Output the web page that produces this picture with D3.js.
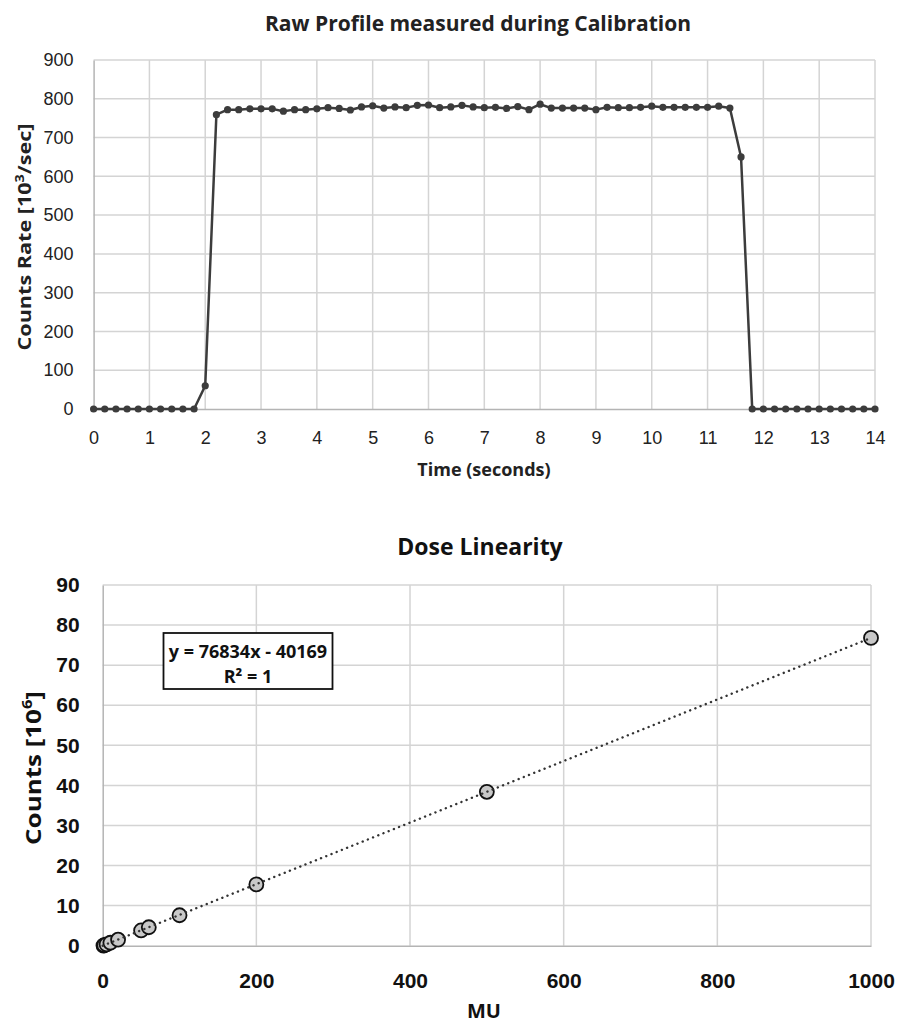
<!DOCTYPE html>
<html>
<head>
<meta charset="utf-8">
<script src="https://cdn.jsdelivr.net/npm/d3@7"></script>
<style>
  html, body { margin: 0; padding: 0; background: #fff; }
  svg { display: block; font-family: "Open Sans", Lato, sans-serif; }
</style>
</head>
<body>
<svg id="chart" width="909" height="1025"></svg>
<script>
// ---------- Data: Raw profile ----------
const timeSeconds = d3.range(71).map(i => +(i * 0.2).toFixed(1));
const countsRate = [
  0, 0, 0, 0, 0, 0, 0, 0, 0, 0,
  60, 759, 772, 772, 774, 774, 774, 768, 772, 772,
  774, 777, 775, 771, 779, 782, 776, 779, 777, 783,
  784, 777, 779, 783, 779, 777, 778, 775, 780, 772,
  786, 776, 776, 776, 776, 772, 778, 777, 777, 778,
  781, 778, 778, 778, 778, 778, 781, 776, 650,
  0, 0, 0, 0, 0, 0, 0, 0, 0, 0, 0, 0
];
const profileXTicks = d3.range(0, 15, 1);
const profileYTicks = d3.range(0, 901, 100);

// ---------- Data: Dose linearity ----------
const doseMU = [1, 2, 5, 10, 20, 50, 60, 100, 200, 500, 1000];
const doseCounts = [0.04, 0.11, 0.34, 0.73, 1.5, 3.8, 4.6, 7.6, 15.3, 38.4, 76.8];
const fitSlope = 76834;      // counts per MU
const fitIntercept = -40169; // counts
const fitLabel = ["y = 76834x - 40169", "R² = 1"];
const doseXTicks = [0, 200, 400, 600, 800, 1000];
const doseYTicks = d3.range(0, 91, 10);

const svg = d3.select("#chart");
const gridColor = "#d4d4d4";
const axisColor = "#b4b4b4";
const lineColor = "#3c3c3c";

// ================= Chart 1 =================
{
  const L = 93.6, R = 875, T = 60, B = 409;
  const x = d3.scaleLinear().domain([0, 14]).range([L, R]);
  const y = d3.scaleLinear().domain([0, 900]).range([B, T]);
  const g = svg.append("g");

  g.append("g").selectAll("line").data(profileXTicks.filter(d => d > 0)).join("line")
    .attr("x1", d => x(d)).attr("x2", d => x(d)).attr("y1", T).attr("y2", B)
    .attr("stroke", gridColor).attr("stroke-width", 1.5);
  g.append("g").selectAll("line").data(profileYTicks.filter(d => d > 0)).join("line")
    .attr("x1", L).attr("x2", R).attr("y1", d => y(d)).attr("y2", d => y(d))
    .attr("stroke", gridColor).attr("stroke-width", 1.5);

  const xAxis = g.append("g").attr("transform", `translate(0,${B})`)
    .call(d3.axisBottom(x).tickValues(profileXTicks).tickSize(0).tickPadding(22).tickFormat(d3.format("d")));
  xAxis.select(".domain").attr("stroke", axisColor).attr("stroke-width", 1.5);
  xAxis.selectAll("text").attr("font-size", 18).attr("fill", "#222");
  const yAxis = g.append("g").attr("transform", `translate(${L},0)`)
    .call(d3.axisLeft(y).tickValues(profileYTicks).tickSize(0).tickPadding(20).tickFormat(d3.format("d")));
  yAxis.select(".domain").attr("stroke", axisColor).attr("stroke-width", 1.5);
  yAxis.selectAll("text").attr("font-size", 18).attr("fill", "#222");

  const pts = timeSeconds.map((t, i) => [t, countsRate[i]]);
  g.append("path").datum(pts)
    .attr("d", d3.line().x(d => x(d[0])).y(d => y(d[1])))
    .attr("fill", "none").attr("stroke", lineColor).attr("stroke-width", 2.5)
    .attr("stroke-linejoin", "round");
  g.append("g").selectAll("circle").data(pts).join("circle")
    .attr("cx", d => x(d[0])).attr("cy", d => y(d[1])).attr("r", 3.6)
    .attr("fill", lineColor);

  svg.append("text").attr("x", 478).attr("y", 31).attr("text-anchor", "middle")
    .attr("font-size", 21).attr("font-weight", "bold").attr("fill", "#222")
    .text("Raw Profile measured during Calibration");
  svg.append("text").attr("x", 484).attr("y", 476).attr("text-anchor", "middle")
    .attr("font-size", 18).attr("font-weight", "bold").attr("fill", "#222")
    .text("Time (seconds)");
  const yt = svg.append("text").attr("transform", "translate(31,237) rotate(-90) scale(1.2,1)")
    .attr("text-anchor", "middle").attr("font-size", 18).attr("font-weight", "bold").attr("fill", "#222");
  yt.append("tspan").text("Counts Rate [10");
  yt.append("tspan").attr("font-size", 12).attr("dy", -7).text("3");
  yt.append("tspan").attr("dy", 7).text("/sec]");
}

// ================= Chart 2 =================
{
  const L = 102.7, R = 871, T = 585, B = 945.7;
  const x = d3.scaleLinear().domain([0, 1000]).range([L, R]);
  const y = d3.scaleLinear().domain([0, 90]).range([B, T]);
  const g = svg.append("g");

  g.append("g").selectAll("line").data(doseXTicks.filter(d => d > 0)).join("line")
    .attr("x1", d => x(d)).attr("x2", d => x(d)).attr("y1", T).attr("y2", B)
    .attr("stroke", gridColor).attr("stroke-width", 1.5);
  g.append("g").selectAll("line").data(doseYTicks.filter(d => d > 0)).join("line")
    .attr("x1", L).attr("x2", R).attr("y1", d => y(d)).attr("y2", d => y(d))
    .attr("stroke", gridColor).attr("stroke-width", 1.5);

  const xAxis = g.append("g").attr("transform", `translate(0,${B})`)
    .call(d3.axisBottom(x).tickValues(doseXTicks).tickSize(0).tickPadding(27).tickFormat(d3.format("d")));
  xAxis.select(".domain").attr("stroke", axisColor).attr("stroke-width", 1.5);
  xAxis.selectAll("text").attr("font-size", 21).attr("font-weight", "bold").attr("fill", "#111");
  const yAxis = g.append("g").attr("transform", `translate(${L},0)`)
    .call(d3.axisLeft(y).tickValues(doseYTicks).tickSize(0).tickPadding(23).tickFormat(d3.format("d")));
  yAxis.select(".domain").attr("stroke", axisColor).attr("stroke-width", 1.5);
  yAxis.selectAll("text").attr("font-size", 21).attr("font-weight", "bold").attr("fill", "#111");

  const pts = doseMU.map((m, i) => [m, doseCounts[i]]);
  g.append("g").selectAll("circle").data(pts).join("circle")
    .attr("cx", d => x(d[0])).attr("cy", d => y(d[1])).attr("r", 7)
    .attr("fill", "#c8c8c8").attr("stroke", "#111").attr("stroke-width", 1.8);

  const fit = m => (fitSlope * m + fitIntercept) / 1e6;
  g.append("path").datum([0, 1000])
    .attr("d", d3.line().x(d => x(d)).y(d => y(Math.max(0, fit(d)))))
    .attr("fill", "none").attr("stroke", "#333").attr("stroke-width", 2.4)
    .attr("stroke-dasharray", "0.1,5.5").attr("stroke-linecap", "round");

  g.append("rect").attr("x", 163.5).attr("y", 633).attr("width", 169).attr("height", 56)
    .attr("fill", "#fff").attr("stroke", "#111").attr("stroke-width", 1.8);
  g.append("text").attr("x", 248).attr("y", 658).attr("text-anchor", "middle")
    .attr("font-size", 18).attr("font-weight", "bold").attr("fill", "#111").text(fitLabel[0]);
  g.append("text").attr("x", 248).attr("y", 683).attr("text-anchor", "middle")
    .attr("font-size", 18).attr("font-weight", "bold").attr("fill", "#111").text(fitLabel[1]);

  svg.append("text").attr("x", 480).attr("y", 555).attr("text-anchor", "middle")
    .attr("font-size", 23).attr("font-weight", "bold").attr("fill", "#111").text("Dose Linearity");
  svg.append("text").attr("x", 484).attr("y", 1018).attr("text-anchor", "middle")
    .attr("font-size", 20).attr("font-weight", "bold").attr("fill", "#111").text("MU");
  const yt = svg.append("text").attr("transform", "translate(41,768) rotate(-90) scale(1.18,1)")
    .attr("text-anchor", "middle").attr("font-size", 22).attr("font-weight", "bold").attr("fill", "#111");
  yt.append("tspan").text("Counts [10");
  yt.append("tspan").attr("font-size", 14).attr("dy", -9).text("6");
  yt.append("tspan").attr("dy", 9).text("]");
}
</script>
</body>
</html>
